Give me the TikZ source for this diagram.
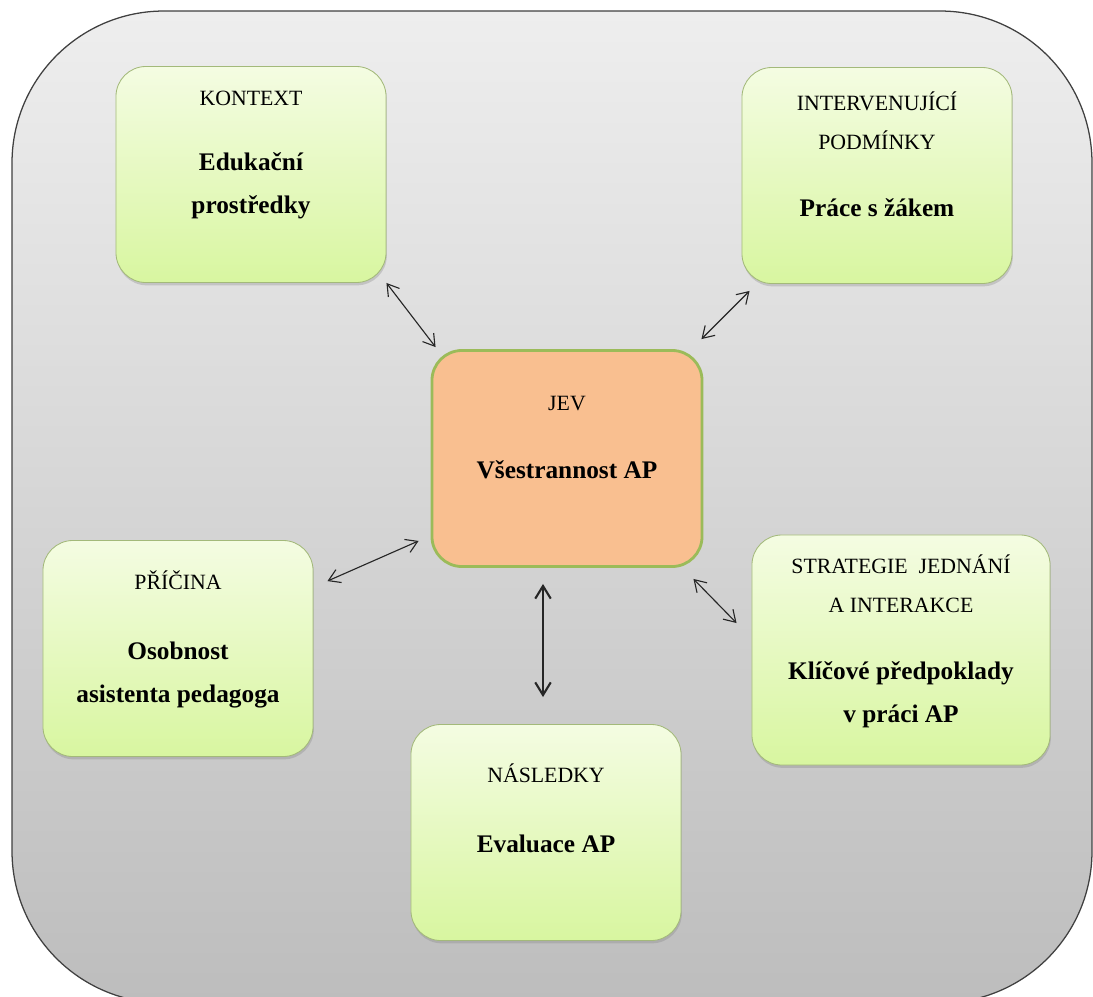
\documentclass[tikz,border=0pt]{standalone}
\usepackage{fontspec}
\setmainfont{Liberation Serif}
\usetikzlibrary{arrows.meta, positioning, shadows}
\definecolor{bgtop}{HTML}{EEEEEE}
\definecolor{bgbot}{HTML}{BDBDBD}
\definecolor{cardtop}{HTML}{F4FCE2}
\definecolor{cardbot}{HTML}{D8F6A0}
\definecolor{cardline}{HTML}{A3B97A}
\definecolor{jevfill}{HTML}{F9BF90}
\definecolor{jevline}{HTML}{9BBB59}
\tikzset{
  card/.style={rectangle, rounded corners=0.75cm, minimum width=6.75cm,
               minimum height=5.4cm, draw=cardline, line width=0.6pt,
               top color=cardtop, bottom color=cardbot,
               drop shadow={shadow xshift=0.6pt, shadow yshift=-2pt, opacity=0.3}},
  jevbox/.style={rectangle, rounded corners=0.75cm, minimum width=6.75cm,
                 minimum height=5.4cm, draw=jevline, line width=2pt, fill=jevfill},
  head/.style={font=\fontsize{15.5}{27.5}\selectfont, align=center, anchor=base},
  title/.style={font=\fontsize{18}{30}\selectfont\bfseries, align=center, anchor=base},
  arr/.style={<->, >={Straight Barb[length=8pt,width=10pt]}, line width=0.8pt, black!85},
}
\begin{document}
\begin{tikzpicture}[x=0.025cm, y=-0.025cm]
  \clip (0,0) rectangle (1093,996);

  % outer frame
  \draw[draw=black!75, line width=0.9pt, top color=bgtop, bottom color=bgbot,
        rounded corners=3.8cm] (12,11) rectangle (1092,1003);

  % boxes
  \node[card] (kontext) at (251,174.5) {};
  \node[card] (interv) at (877,175.5) {};
  \node[jevbox] (jev) at (567,458.5) {};
  \node[card] (pricina) at (178,648.5) {};
  \node[card, minimum width=7.45cm, minimum height=5.75cm] (strat) at (901,650) {};
  \node[card] (nasl) at (546,832.5) {};

  % texts (base = last line)
  \node[head] (kontext-h) at (251,105) {KONTEXT};
  \node[title] (kontext-t) at (251,213) {Edukační\\prostředky};
  \node[head] (interv-h) at (877,149) {INTERVENUJÍCÍ\\PODMÍNKY};
  \node[title] (interv-t) at (877,216) {Práce s žákem};
  \node[head] (jev-h) at (567,410) {JEV};
  \node[title] (jev-t) at (567,478) {Všestrannost AP};
  \node[head] (pricina-h) at (178,589) {PŘÍČINA};
  \node[title] (pricina-t) at (178,702) {Osobnost\\asistenta pedagoga};
  \node[head] (strat-h) at (901,612) {STRATEGIE~~JEDNÁNÍ\\A INTERAKCE};
  \node[title] (strat-t) at (901,722) {Klíčové předpoklady\\v práci AP};
  \node[head] (nasl-h) at (546,782) {NÁSLEDKY};
  \node[title] (nasl-t) at (546,852) {Evaluace AP};

  % connectors
  \draw[arr] (kontext.south east) -- ([shift={(5,-2)}]jev.north west);
  \draw[arr] ([shift={(8,7)}]interv.south west) -- ([shift={(-2,-10)}]jev.north east);
  \draw[arr] ([shift={(14,41)}]pricina.north east) -- ([shift={(-12,-27)}]jev.south west);
  \draw[arr] ([shift={(-10,11)}]jev.south east) -- ([shift={(-15,-27)}]strat.west);
  \draw[arr, line width=1.5pt, >={Straight Barb[length=9pt,width=11pt]}]
    ([shift={(-24,16)}]jev.south) -- ([shift={(-3,-27)}]nasl.north);

\end{tikzpicture}
\end{document}
